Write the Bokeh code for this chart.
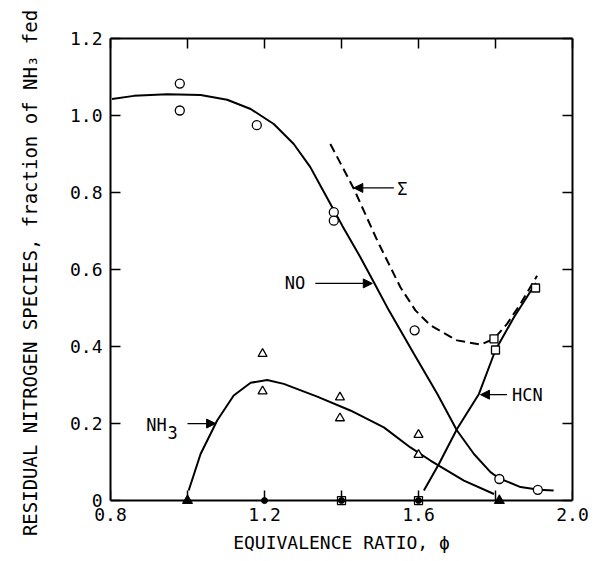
from bokeh.plotting import figure
from bokeh.models import (Range1d, LinearAxis, FixedTicker, CustomJSTickFormatter,
                          Arrow, NormalHead, ColumnDataSource)
from bokeh.core.properties import value
from bokeh.embed import file_html
from bokeh.resources import INLINE

FONT = "DejaVu Sans Mono"

# axis ticks
x_major_ticks = [0.8, 1.2, 1.6, 2.0]
x_minor_ticks = [1.0, 1.4, 1.8]
y_ticks = [0, 0.2, 0.4, 0.6, 0.8, 1.0, 1.2]

# data points
no_x = [0.98, 0.98, 1.18, 1.38, 1.38, 1.59, 1.81, 1.91]
no_y = [1.083, 1.013, 0.975, 0.749, 0.727, 0.442, 0.056, 0.028]

nh3_x = [1.195, 1.195, 1.396, 1.396, 1.60, 1.60]
nh3_y = [0.381, 0.284, 0.268, 0.214, 0.171, 0.119]

hcn_x = [1.796, 1.80, 1.904]
hcn_y = [0.42, 0.391, 0.552]

zero_tri_x = [1.0, 1.81]
zero_tri_y = [0.0, 0.0]
zero_dot_x = [1.2, 1.4, 1.6]
zero_dot_y = [0.0, 0.0, 0.0]
zero_sq_x = [1.4, 1.6]
zero_sq_y = [0.0, 0.0]

# fitted curves
no_curve_x = [0.804, 0.861, 0.947, 1.034, 1.103, 1.164, 1.224, 1.276, 1.319, 1.345,
              1.371, 1.402, 1.449, 1.484, 1.523, 1.588, 1.649, 1.70, 1.744, 1.787,
              1.809, 1.865, 1.913, 1.951]
no_curve_y = [1.043, 1.051, 1.055, 1.053, 1.041, 1.017, 0.978, 0.926, 0.866, 0.818,
              0.771, 0.714, 0.632, 0.567, 0.494, 0.381, 0.277, 0.182, 0.121, 0.074,
              0.058, 0.035, 0.028, 0.026]

sum_curve_x = [1.371, 1.432, 1.493, 1.553, 1.592, 1.631, 1.70, 1.761, 1.796, 1.83,
               1.865, 1.908]
sum_curve_y = [0.926, 0.81, 0.675, 0.554, 0.494, 0.455, 0.416, 0.405, 0.42, 0.459,
               0.511, 0.584]

hcn_curve_x = [1.614, 1.653, 1.70, 1.757, 1.80, 1.848, 1.887, 1.905]
hcn_curve_y = [0.026, 0.095, 0.186, 0.277, 0.391, 0.476, 0.537, 0.565]

nh3_curve_x = [1.003, 1.034, 1.077, 1.12, 1.164, 1.207, 1.25, 1.337, 1.423, 1.51,
               1.579, 1.631, 1.718, 1.796]
nh3_curve_y = [0.026, 0.121, 0.208, 0.273, 0.306, 0.313, 0.303, 0.27, 0.234, 0.19,
               0.138, 0.104, 0.052, 0.017]

# annotations
label_text = ["\u03a3", "NO", "HCN", "NH"]
label_x = [1.545, 1.306, 1.843, 0.893]
label_y = [0.81, 0.564, 0.273, 0.197]
label_align = ["left", "right", "left", "left"]
sub_text = ["3"]
sub_x = [0.948]
sub_y = [0.178]

arrow_x0 = [1.536, 1.332, 1.83, 1.0]
arrow_y0 = [0.812, 0.564, 0.275, 0.2]
arrow_x1 = [1.432, 1.48, 1.761, 1.073]
arrow_y1 = [0.812, 0.564, 0.275, 0.2]

x_title = "EQUIVALENCE RATIO, \u03d5"
y_title = "RESIDUAL NITROGEN SPECIES, fraction of NH\u2083 fed"

Y_MIN = -0.018

p = figure(width=603, height=561, output_backend="svg", toolbar_location=None,
           x_range=Range1d(0.8, 2.0), y_range=Range1d(Y_MIN, 1.2),
           min_border_left=110, min_border_right=31, min_border_top=38,
           min_border_bottom=54, outline_line_color=None)
p.grid.visible = False
p.background_fill_color = "white"
p.border_fill_color = "white"

xfmt = CustomJSTickFormatter(code="return tick.toFixed(1);")
yfmt = CustomJSTickFormatter(code="return tick == 0 ? '0' : tick.toFixed(1);")

def style_axis(ax, labels=True):
    ax.axis_line_width = 2
    ax.axis_line_color = "black"
    ax.major_tick_in = 10
    ax.major_tick_out = 0
    ax.minor_tick_in = 10
    ax.minor_tick_out = 0
    ax.major_tick_line_width = 1.5
    ax.minor_tick_line_width = 1.5
    ax.major_tick_line_color = "black"
    ax.minor_tick_line_color = "black"
    ax.major_label_text_font = FONT
    ax.major_label_text_font_size = "18px"
    ax.major_label_text_color = "black"
    if not labels:
        ax.major_label_text_color = None
        ax.major_label_text_font_size = "0px"
        ax.major_label_standoff = 0

# bottom axis: labels and title only (at frame bottom)
xa = p.xaxis[0]
xa.ticker = FixedTicker(ticks=x_major_ticks, minor_ticks=x_minor_ticks)
xa.formatter = xfmt
style_axis(xa)
xa.axis_line_color = None
xa.major_tick_line_color = None
xa.minor_tick_line_color = None
xa.major_tick_in = 0
xa.minor_tick_in = 0
xa.major_label_standoff = 0
xa.axis_label = x_title
xa.axis_label_text_font = FONT
xa.axis_label_text_font_size = "18px"
xa.axis_label_text_font_style = "normal"
xa.axis_label_text_color = "black"
xa.axis_label_standoff = 8

# bottom axis line and ticks at y = 0
x0axis = LinearAxis(ticker=FixedTicker(ticks=x_major_ticks, minor_ticks=x_minor_ticks),
                    fixed_location=0)
style_axis(x0axis, labels=False)
p.add_layout(x0axis, "below")

ya = p.yaxis[0]
ya.ticker = FixedTicker(ticks=y_ticks, minor_ticks=[])
ya.formatter = yfmt
ya.bounds = (0, 1.2)
style_axis(ya)
ya.major_label_standoff = 8
ya.axis_label = y_title
ya.axis_label_text_font = FONT
ya.axis_label_text_font_size = "19px"
ya.axis_label_text_font_style = "normal"
ya.axis_label_text_color = "black"
ya.axis_label_standoff = 26

top = LinearAxis(ticker=FixedTicker(ticks=x_major_ticks, minor_ticks=x_minor_ticks))
style_axis(top, labels=False)
p.add_layout(top, "above")
right = LinearAxis(ticker=FixedTicker(ticks=y_ticks, minor_ticks=[]), bounds=(0, 1.2))
style_axis(right, labels=False)
p.add_layout(right, "right")

# curves
p.line(no_curve_x, no_curve_y, line_color="black", line_width=2)
p.line(sum_curve_x, sum_curve_y, line_color="black", line_width=2, line_dash="9 5")
p.line(hcn_curve_x, hcn_curve_y, line_color="black", line_width=2)
p.line(nh3_curve_x, nh3_curve_y, line_color="black", line_width=2)

# markers
p.scatter(no_x, no_y, marker="circle", size=9, fill_color="white",
          line_color="black", line_width=1.3)
p.scatter(nh3_x, nh3_y, marker="triangle", size=9, fill_color="white",
          line_color="black", line_width=1.3)
p.scatter(hcn_x, hcn_y, marker="square", size=8, fill_color="white",
          line_color="black", line_width=1.3)
p.scatter(zero_tri_x, zero_tri_y, marker="triangle", size=10, fill_color="black",
          line_color="black")
p.scatter(zero_sq_x, zero_sq_y, marker="square", size=8, fill_color="white",
          line_color="black", line_width=1.3)
p.scatter(zero_dot_x, zero_dot_y, marker="circle", size=6, fill_color="black",
          line_color="black")

# annotation labels
src = ColumnDataSource(dict(x=label_x, y=label_y, t=label_text, a=label_align))
p.text(x="x", y="y", text="t", source=src, text_align="a", text_baseline="middle",
       text_font=value(FONT), text_font_size="17px", text_color="black")
p.text(x=sub_x, y=sub_y, text=sub_text, text_align="left", text_baseline="middle",
       text_font=value(FONT), text_font_size="17px", text_color="black")

for x0, y0, x1, y1 in zip(arrow_x0, arrow_y0, arrow_x1, arrow_y1):
    p.add_layout(Arrow(end=NormalHead(size=9, fill_color="black", line_color="black",
                                      line_width=1),
                       x_start=x0, y_start=y0, x_end=x1, y_end=y1,
                       line_color="black", line_width=1.3))

open("out.html", "w").write(file_html(p, INLINE))
